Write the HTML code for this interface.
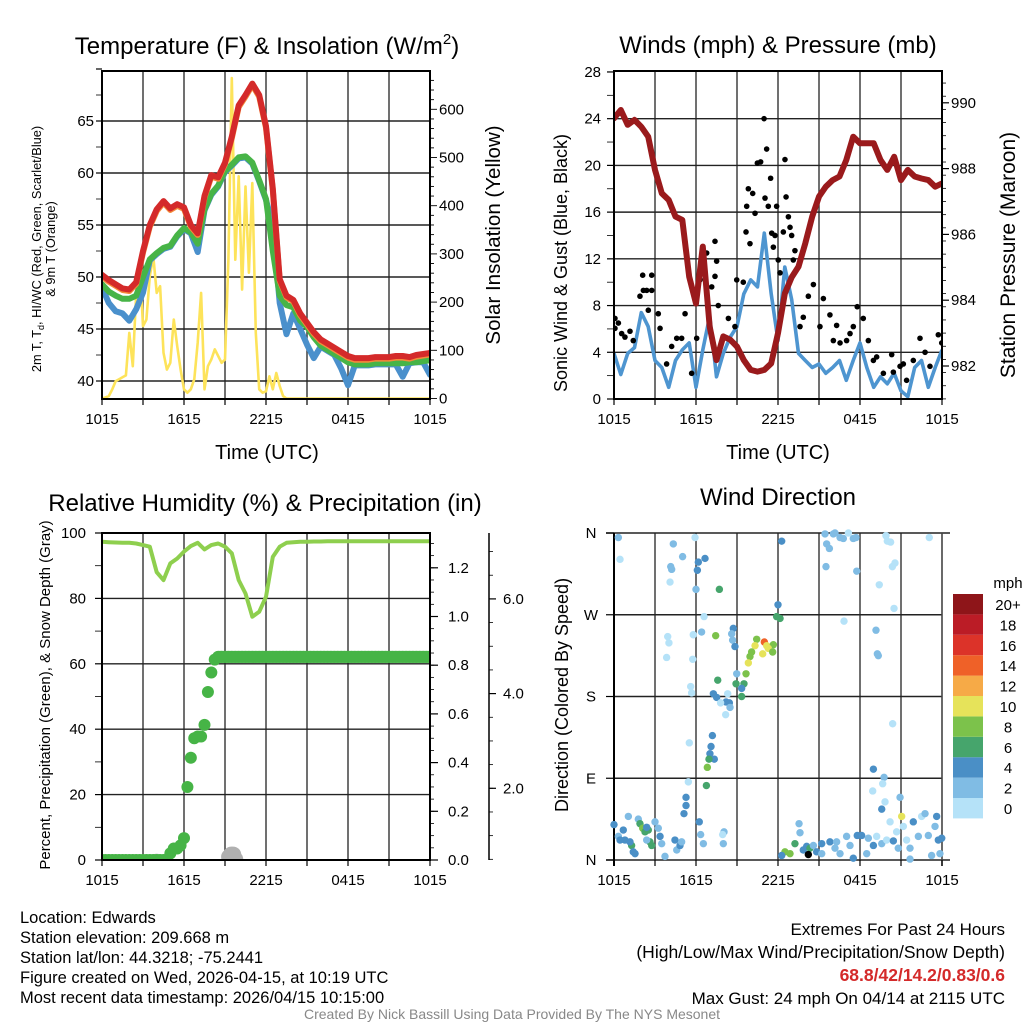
<!DOCTYPE html>
<html><head><meta charset="utf-8">
<style>
html,body{margin:0;padding:0;background:#fff;}
svg{display:block;font-family:"Liberation Sans",Arial,sans-serif;}
</style></head>
<body>
<svg id="fig" width="1024" height="1024" viewBox="0 0 1024 1024" xmlns="http://www.w3.org/2000/svg">
<defs>
<clipPath id="c1"><rect x="102" y="71" width="328" height="330"/></clipPath>
<clipPath id="c2"><rect x="614" y="71" width="328" height="328"/></clipPath>
<clipPath id="c3"><rect x="102" y="533" width="328" height="327"/></clipPath>
<clipPath id="c4"><rect x="605" y="525" width="345" height="345"/></clipPath>
</defs>
</svg>
<script>
// ---------- data ----------
const halfHours = [0,0.5,1,1.5,2,2.5,3,3.5,4,4.5,5,5.5,6,6.5,7,7.5,8,8.5,9,9.5,10,10.5,11,11.5,12,12.5,13,13.5,14,14.5,15,15.5,16,16.5,17,17.5,18,18.5,19,19.5,20,20.5,21,21.5,22,22.5,23,23.5,24];
const xTickLabels = ["1015","1615","2215","0415","1015"];
const tempRed = [50.2,49.7,49.3,48.9,48.8,49.5,52.5,55.0,56.5,57.3,56.6,57.0,56.7,55.0,54.2,57.8,59.8,59.6,61.0,63.5,66.5,67.5,68.6,67.5,64.5,58.5,49.8,48.2,47.8,46.5,45.6,44.7,44.0,43.6,43.2,42.8,42.4,42.2,42.2,42.2,42.3,42.3,42.3,42.4,42.4,42.3,42.5,42.6,42.7];
const dewGreen = [49.3,48.6,48.2,47.9,47.9,48.2,50.0,51.7,52.3,52.8,53.0,54.0,54.7,54.3,53.2,56.5,58.0,58.8,60.2,60.8,61.5,61.6,61.0,59.3,57.5,52.5,48.2,47.3,47.1,45.8,45.2,44.2,43.4,43.0,42.6,42.2,41.8,41.6,41.6,41.6,41.7,41.7,41.7,41.7,41.7,41.8,41.8,41.9,42.0];
const chillBlue = [49.0,47.5,46.7,46.5,45.8,46.9,48.5,51.6,52.2,52.7,52.9,53.9,54.6,54.2,52.4,56.4,57.9,58.7,60.1,60.7,61.4,61.5,60.9,59.2,57.4,55.0,47.5,44.5,46.5,45.0,43.5,42.2,43.3,42.9,42.5,41.2,39.6,41.5,41.5,41.5,41.6,41.6,41.6,41.6,40.4,41.7,41.8,41.8,40.6];
const tempTicks = [40,45,50,55,60,65];
const solarTicks = [0,100,200,300,400,500,600];
const solarYellow = [0,2,5,19,36,40,44,48,136,67,219,288,150,164,254,295,219,233,95,60,74,164,109,60,19,12,19,40,116,219,19,67,81,102,88,74,81,288,665,288,461,226,440,261,447,136,19,12,15,46,19,53,26,5,0,0,0,0,0,0,0,0,0,0,0,0,0,0,0,0,0,0,0,0,0,0,0,0,0,0,0,0,0,0,0,0,0,0,0,0,0,0,0,0,0,0,0];
const windTicks = [0,4,8,12,16,20,24,28];
const pressTicks = [982,984,986,988,990];
const pressure = [989.53,989.78,989.33,989.48,989.27,988.97,987.96,987.25,987.05,986.54,986.44,984.71,983.9,985.63,983.19,982.18,982.9,982.8,982.59,982.18,981.88,981.83,981.88,982.08,983.0,984.2,984.7,985.02,985.73,986.54,987.15,987.45,987.65,987.76,988.26,988.97,988.77,988.77,988.77,988.26,987.96,988.36,987.65,987.96,987.76,987.70,987.65,987.45,987.55];
const windSpeed = [3.9,2.1,3.9,4.4,7.4,6.2,3.3,2.7,1.0,3.3,4.2,4.8,1.0,4.2,7.1,1.9,3.9,5.3,6.2,9.0,10.2,9.6,14.2,9.0,5.0,11.3,8.5,3.9,3.3,2.7,3.0,2.2,2.7,3.3,1.6,3.3,4.8,2.7,1.0,1.9,1.3,2.2,0.7,0.2,2.7,3.3,1.0,2.7,4.2];
const gustTime = [0.07,0.07,0.32,0.56,0.8,1.17,1.41,1.9,2.1,2.15,2.39,2.76,2.76,2.51,3.24,3.37,3.85,4.22,4.59,4.95,5.2,5.68,6.05,6.29,6.78,7.39,7.51,7.39,7.15,7.63,8.37,8.98,8.85,9.46,9.66,9.71,9.83,10.15,9.95,10.32,10.49,10.73,10.98,11.17,11.05,11.29,11.46,11.54,11.78,11.66,11.9,12.02,12.15,12.39,12.51,12.59,12.76,12.88,13.0,13.12,13.24,13.61,13.85,14.22,14.59,15.07,15.32,15.8,16.05,16.29,16.54,17.02,17.27,17.51,17.8,18.24,18.61,18.98,19.22,19.71,20.32,20.44,20.93,21.17,21.41,21.9,22.39,22.76,23.12,23.73,23.98];
const gustSpeed = [6.05,6.9,6.5,5.6,5.3,5.8,5.0,8.8,10.6,9.3,9.3,9.3,10.6,7.6,7.3,6.05,3.0,4.5,5.2,5.2,7.3,2.2,5.2,10.2,12.5,13.5,11.8,10.5,9.6,8.0,6.9,10.2,6.2,10.0,14.3,16.5,18.0,17.6,13.3,15.9,20.2,20.3,24.0,21.4,17.2,16.5,18.9,14.2,14.0,13.0,16.5,11.9,10.8,14.3,20.5,17.3,15.6,14.7,14.0,11.9,12.7,6.2,7.0,8.8,9.8,6.2,8.6,7.2,5.0,6.3,4.8,5.0,5.6,6.2,7.9,6.9,5.0,3.3,3.6,2.2,3.8,2.3,2.8,3.0,1.6,3.3,5.2,4.0,2.8,5.5,4.8];
const rhTicks = [0,20,40,60,80,100];
const precipTicks = ["0.0","0.2","0.4","0.6","0.8","1.0","1.2"];
const snowTicks = ["2.0","4.0","6.0"];
const relHum = [97.3,97.2,97.1,97.0,97.0,96.8,96.3,95.8,88.0,85.6,90.7,92.2,94.3,96.0,97.0,95.0,96.3,96.8,95.8,93.8,85.6,81.5,74.4,75.9,80.5,92.7,95.8,97.0,97.2,97.3,97.3,97.4,97.4,97.5,97.5,97.5,97.5,97.5,97.5,97.5,97.5,97.5,97.5,97.5,97.5,97.5,97.5,97.5,97.5];
const precipQ = [0,0,0,0,0,0,0,0,0,0,0,0,0,0,0,0,0,0,0,0,0.027,0.047,0.047,0.06,0.09,0.30,0.42,0.50,0.507,0.507,0.555,0.69,0.77,0.823,0.834,0.834,0.834,0.834,0.834,0.834,0.834,0.834,0.834,0.834,0.834,0.834,0.834,0.834,0.834,0.834,0.834,0.834,0.834,0.834,0.834,0.834,0.834,0.834,0.834,0.834,0.834,0.834,0.834,0.834,0.834,0.834,0.834,0.834,0.834,0.834,0.834,0.834,0.834,0.834,0.834,0.834,0.834,0.834,0.834,0.834,0.834,0.834,0.834,0.834,0.834,0.834,0.834,0.834,0.834,0.834,0.834,0.834,0.834,0.834,0.834,0.834,0.834];
const snowTime = [4.0,9.3,9.45,9.6,9.75];
const snowDepth = [0.45,0.55,0.6,0.6,0.5];
const dirLabels = ["N","E","S","W","N"];
const dirTime = [0.32,0.44,4.34,5.93,5.02,4.15,4.22,4.10,6.17,6.66,6.10,6.0,7.71,12.27,12.0,11.9,12.15,6.59,6.41,5.80,3.93,4.02,3.85,5.76,7.44,8.73,8.61,8.68,8.85,10.44,11.0,10.32,11.17,11.66,11.29,10.88,11.61,10.07,9.95,9.83,9.66,8.98,9.51,8.93,7.59,9.34,9.34,7.27,7.51,8.32,8.20,8.44,8.49,7.80,8.17,5.61,5.68,7.20,5.51,7.10,7.02,7.34,6.95,6.83,6.76,5.44,5.27,5.27,5.12,6.24,6.34,6.54,8.05,7.95,8.0,0,0.32,0.68,0.8,1.05,1.29,1.41,1.54,1.78,1.90,2.10,2.27,2.51,2.39,2.63,2.76,3.0,3.24,3.37,3.49,3.73,4.46,4.59,4.83,4.95,0.44,1.17,2.39,15.44,16.05,16.17,16.54,16.78,17.15,17.51,17.71,15.56,15.76,15.51,17.76,19.9,20.0,20.24,23.07,20.56,20.37,19.41,20.49,16.83,19.17,19.27,19.34,20.39,18.98,19.76,19.66,18.93,19.83,19.59,20.93,21.05,12.51,12.88,13.24,12.27,13.54,13.61,13.85,14.1,14.34,14.59,14.83,15.2,15.8,16.29,16.54,17.02,17.27,17.51,17.8,18.12,18.49,18.61,18.98,19.22,19.59,19.95,20.2,20.68,20.8,21.17,21.41,21.66,21.9,22.27,22.51,22.76,23.0,23.24,23.49,23.61,23.73,23.98,23.85,21.66,20.44,16.17,15.2,14.22];
const dirDeg = [355,331,348,355,334,323,320,306,328,332,319,298,298,351,281,268,266,268,251,248,246,239,223,221,247,255,249,242,235,243,240,236,236,237,233,227,229,229,224,217,205,205,194,194,198,189,180,183,179,183,174,173,168,173,160,191,184,137,129,125,117,111,111,102,82,86,69,60,51,42,28,18,31,28,18,39,26,33,22,48,16,9,7,45,40,35,31,33,36,20,16,42,35,26,18,4,22,11,16,20,22,20,22,359,359,360,355,354,360,354,355,348,343,323,318,357,351,350,355,327,323,303,277,263,253,227,225,150,100,91,84,76,64,56,69,48,9,7,18,5,40,30,11,15,13,16,9,18,20,20,7,26,16,2,27,27,7,24,16,26,18,22,42,31,13,37,22,1,42,26,48,51,27,5,37,48,22,24,7,13,21,13,7,6];
const dirSpeed = [3,1,3,1,3,3,3,1,5,5,5,3,7,5,5,7,7,1,3,1,1,1,1,1,9,5,3,3,5,9,15,11,11,9,11,11,9,9,9,11,9,3,7,7,7,5,7,5,5,1,5,5,3,1,1,1,1,5,1,5,5,5,7,9,7,1,5,5,5,5,3,3,3,1,3,5,3,5,5,3,7,5,5,3,7,9,7,7,5,7,7,3,3,5,3,3,5,3,5,3,5,5,3,3,3,3,3,3,1,3,3,3,3,3,3,1,1,1,1,1,1,1,1,1,3,3,3,1,5,3,1,1,1,5,3,11,9,9,7,5,3,3,5,5,7,3,5,5,5,3,3,3,3,5,5,5,3,3,5,1,3,1,1,1,3,1,1,3,5,3,1,3,3,3,3,5,5,5,3,3,5,3,3];
const speedBins = ["0","2","4","6","8","10","12","14","16","18","20+"];
const binColors = ["#b5e2f8","#80bce4","#4a8fc6","#46a56c","#7cc24b","#e6e35a","#f6aa47","#ef6128","#dc3329","#bb1c26","#8e1519"];

// ---------- helpers ----------
const NS="http://www.w3.org/2000/svg";
const svg=document.getElementById('fig');
function mk(tag,attrs,parent){const e=document.createElementNS(NS,tag);for(const k in attrs)e.setAttribute(k,attrs[k]);(parent||svg).appendChild(e);return e;}
function txt(s,x,y,size,anchor,parent,extra){const e=mk('text',Object.assign({x:x,y:y,'font-size':size,'text-anchor':anchor||'middle',fill:'#000'},extra||{}),parent);e.textContent=s;return e;}
function pathD(xs,ys){let d='';for(let i=0;i<xs.length;i++){if(ys[i]==null)continue;d+=(d?'L':'M')+xs[i].toFixed(1)+','+ys[i].toFixed(1);}return d;}
function grid(g,x0,x1,y0,y1,hy){
  for(let i=1;i<8;i++){const x=x0+(x1-x0)*i/8;const l=mk('line',{x1:x,y1:y0,x2:x,y2:y1,stroke:'#333','stroke-width':1.4},g);}
  hy.forEach(y=>{const l=mk('line',{x1:x0,y1:y,x2:x1,y2:y,stroke:'#222','stroke-width':1.4},g);});
}
function xticks(g,x0,x1,yb){
  for(let i=0;i<=8;i++){const x=x0+(x1-x0)*i/8;mk('line',{x1:x,y1:yb,x2:x,y2:yb+6,stroke:'#000','stroke-width':1.2},g);}
  xTickLabels.forEach((s,i)=>{const t=txt(s,x0+(x1-x0)*i/4,yb+25,15,'middle',g);});
}

// ---------- panel 1 ----------
const P1X=t=>102+t*328/24, P1Y=v=>381-(v-40)*10.4, P1S=v=>398.5-v*0.482;
const g1=mk('g',{});


grid(g1,102,430,71,399,tempTicks.map(P1Y));
const g1d=mk('g',{'clip-path':'url(#c1)'},g1);
const qx=solarYellow.map((v,i)=>P1X(i*0.25));
const ysol=mk('path',{d:pathD(qx,solarYellow.map(P1S)),fill:'none',stroke:'#fde35a','stroke-width':2.6,'stroke-linejoin':'round'},g1d);


const hx=halfHours.map(P1X);
const lb=mk('path',{d:pathD(hx,chillBlue.map(P1Y)),fill:'none',stroke:'#4a90cc','stroke-width':6,'stroke-linejoin':'round','stroke-linecap':'round'},g1d);


const lg=mk('path',{d:pathD(hx,dewGreen.map(P1Y)),fill:'none',stroke:'#47b447','stroke-width':6,'stroke-linejoin':'round','stroke-linecap':'round'},g1d);


const lo=mk('path',{d:pathD(hx,tempRed.map(v=>P1Y(v-0.15))),fill:'none',stroke:'#f58a3a','stroke-width':6,'stroke-linejoin':'round'},g1d);


const lr=mk('path',{d:pathD(hx,tempRed.map(P1Y)),fill:'none',stroke:'#d42a2a','stroke-width':6,'stroke-linejoin':'round','stroke-linecap':'round'},g1d);


mk('rect',{x:102,y:71,width:328,height:328,fill:'none',stroke:'#000','stroke-width':2},g1);
for(let v=40;v<=70;v+=2.5){mk('line',{x1:96,y1:P1Y(v),x2:102,y2:P1Y(v),stroke:'#000','stroke-width':v%5===0?1.2:0.8},g1);}
tempTicks.forEach(v=>{const t=txt(String(v),94,P1Y(v)+5,15,'end',g1);});
for(let v=0;v<=660;v+=20){mk('line',{x1:430,y1:P1S(v),x2:v%100===0?437:434,y2:P1S(v),stroke:'#000','stroke-width':0.9},g1);}
solarTicks.forEach(v=>{const t=txt(String(v),439,P1S(v)+5,15,'start',g1);});
xticks(g1,102,430,399);
{const t=mk('text',{x:267,y:54,'font-size':24,'text-anchor':'middle'},g1);t.innerHTML='Temperature (F) &amp; Insolation (W/m<tspan dy="-10" font-size="15">2</tspan><tspan dy="10">)</tspan>';}
{const t=txt('Time (UTC)',267,459,20,'middle',g1);}
{const t=mk('text',{x:0,y:0,'font-size':12.8,'text-anchor':'middle',transform:'translate(41,249) rotate(-90)'},g1);t.innerHTML='2m T, T<tspan dy="3" font-size="9">d</tspan><tspan dy="-3">, HI/WC (Red, Green, Scarlet/Blue)</tspan>';}
{const t=txt('& 9m T (Orange)',0,0,12.8,'middle',g1,{transform:'translate(55,249) rotate(-90)'});}
{const t=txt('Solar Insolation (Yellow)',0,0,20.5,'middle',g1,{transform:'translate(500,235) rotate(-90)'});}

// ---------- panel 2 ----------
const P2X=t=>614+t*328/24, P2Y=v=>399-v*11.68, P2P=v=>366-(v-982)*32.9;
const g2=mk('g',{});


grid(g2,614,942,71,399,windTicks.slice(1,7).map(P2Y));
const g2d=mk('g',{'clip-path':'url(#c2)'},g2);
const ws=mk('path',{d:pathD(halfHours.map(P2X),windSpeed.map(P2Y)),fill:'none',stroke:'#4e95d0','stroke-width':3.6,'stroke-linejoin':'round'},g2d);


gustTime.forEach((t,i)=>{const c=mk('circle',{cx:P2X(t),cy:P2Y(gustSpeed[i]),r:2.8,fill:'#000'},g2d);});
const pr=mk('path',{d:pathD(halfHours.map(P2X),pressure.map(P2P)),fill:'none',stroke:'#9a1a1c','stroke-width':6,'stroke-linejoin':'round','stroke-linecap':'round'},g2d);


mk('rect',{x:614,y:71,width:328,height:328,fill:'none',stroke:'#000','stroke-width':2},g2);
for(let v=0;v<=28;v+=2){mk('line',{x1:607,y1:P2Y(v),x2:614,y2:P2Y(v),stroke:'#000','stroke-width':v%4===0?1.2:0.8},g2);}
windTicks.forEach(v=>{const t=txt(String(v),601,P2Y(v)+5,15,'end',g2);});
for(let v=981;v<=990.8;v+=0.4){mk('line',{x1:942,y1:P2P(v),x2:946,y2:P2P(v),stroke:'#000','stroke-width':0.8},g2);}
pressTicks.forEach(v=>{mk('line',{x1:942,y1:P2P(v),x2:949,y2:P2P(v),stroke:'#000','stroke-width':1.2},g2);const t=txt(String(v),951,P2P(v)+5,15,'start',g2);});
xticks(g2,614,942,399);
{const t=txt('Winds (mph) & Pressure (mb)',778,53,24,'middle',g2);}
{const t=txt('Time (UTC)',778,459,20,'middle',g2);}
{const t=txt('Sonic Wind & Gust (Blue, Black)',0,0,18,'middle',g2,{transform:'translate(567,263) rotate(-90)'});}
{const t=txt('Station Pressure (Maroon)',0,0,21,'middle',g2,{transform:'translate(1015,255) rotate(-90)'});}

// ---------- panel 3 ----------
const P3X=t=>102+t*328/24, P3Y=v=>860-v*3.27, P3R=v=>860-v*243.5, P3S=v=>883-v*47.35;
const g3=mk('g',{});


grid(g3,102,430,533,860,[20,40,60,80].map(P3Y));
const g3d=mk('g',{'clip-path':'url(#c3)'},g3);
snowTime.forEach((t,i)=>{const c=mk('circle',{cx:P3X(t),cy:P3S(snowDepth[i]),r:8,fill:'#b0b0b0'},g3d);});
const qx3=precipQ.map((v,i)=>P3X(i*0.25));
precipQ.forEach((v,i)=>{const c=mk('circle',{cx:qx3[i],cy:P3R(v),r:6,fill:'#46b446'},g3d);});
const pband=mk('path',{d:pathD(qx3.slice(34),precipQ.slice(34).map(P3R)),fill:'none',stroke:'#46b446','stroke-width':12,'stroke-linecap':'round'},g3d);


const zband=mk('path',{d:pathD(qx3.slice(0,20),precipQ.slice(0,20).map(P3R)),fill:'none',stroke:'#46b446','stroke-width':10,'stroke-linecap':'round'},g3d);


const rh=mk('path',{d:pathD(halfHours.map(P3X),relHum.map(P3Y)),fill:'none',stroke:'#8ecf4e','stroke-width':4,'stroke-linejoin':'round','stroke-linecap':'round'},g3d);


mk('rect',{x:102,y:533,width:328,height:327,fill:'none',stroke:'#000','stroke-width':2},g3);
for(let v=0;v<=100;v+=10){mk('line',{x1:95,y1:P3Y(v),x2:102,y2:P3Y(v),stroke:'#000','stroke-width':v%20===0?1.2:0.8},g3);}
rhTicks.forEach(v=>{const t=txt(String(v),86,P3Y(v)+5,15,'end',g3);});
for(let v=0;v<=1.35;v+=0.05){mk('line',{x1:430,y1:P3R(v),x2:434,y2:P3R(v),stroke:'#000','stroke-width':0.8},g3);}
precipTicks.forEach(s=>{const v=parseFloat(s);mk('line',{x1:430,y1:P3R(v),x2:438,y2:P3R(v),stroke:'#000','stroke-width':1.2},g3);const t=txt(s,448,P3R(v)+5,15,'start',g3);});
mk('line',{x1:489,y1:533,x2:489,y2:860,stroke:'#000','stroke-width':1.5},g3);
for(let v=0.5;v<=7;v+=0.5){const y=P3S(v);if(y<533||y>860)continue;mk('line',{x1:489,y1:y,x2:493,y2:y,stroke:'#000','stroke-width':0.8},g3);}
snowTicks.forEach(s=>{const v=parseFloat(s);mk('line',{x1:489,y1:P3S(v),x2:496,y2:P3S(v),stroke:'#000','stroke-width':1.2},g3);const t=txt(s,503,P3S(v)+5,15,'start',g3);});
xticks(g3,102,430,860);
{const t=txt('Relative Humidity (%) & Precipitation (in)',265,511,24,'middle',g3);}
{const t=txt('Percent, Precipitation (Green), & Snow Depth (Gray)',0,0,15,'middle',g3,{transform:'translate(50,695) rotate(-90)'});}

// ---------- panel 4 ----------
const P4X=t=>614+t*328/24, P4Y=d=>860-d*0.9083;
const g4=mk('g',{});


grid(g4,614,942,533,860,[90,180,270].map(P4Y));
mk('line',{x1:606,y1:533,x2:950,y2:533,stroke:'#222','stroke-width':1.5},g4);
mk('line',{x1:606,y1:860,x2:950,y2:860,stroke:'#222','stroke-width':1.5},g4);
mk('line',{x1:614,y1:533,x2:614,y2:866,stroke:'#000','stroke-width':2},g4);
mk('line',{x1:942,y1:533,x2:942,y2:866,stroke:'#444','stroke-width':1.6},g4);
const g4d=mk('g',{'clip-path':'url(#c4)'},g4);
function binOf(s){return Math.min(10,Math.floor(s/2));}
dirTime.forEach((t,i)=>{const c=mk('circle',{cx:P4X(t),cy:P4Y(dirDeg[i]),r:3.7,fill:binColors[binOf(dirSpeed[i])]},g4d);});
dirLabels.forEach((s,i)=>{const y=P4Y(i*90);mk('line',{x1:606,y1:y,x2:614,y2:y,stroke:'#000','stroke-width':1.2},g4);const t=txt(s,591,y+5,15,'middle',g4);});
xticks(g4,614,942,860);
{const t=txt('Wind Direction',778,505,24,'middle',g4);}
{const t=txt('Direction (Colored By Speed)',0,0,18,'middle',g4,{transform:'translate(568,695) rotate(-90)'});}
const cb=mk('g',{},g4);


speedBins.forEach((s,i)=>{const y=594+(10-i)*20.4;const r=mk('rect',{x:953,y:y,width:30,height:20.4,fill:binColors[i]},cb);const t=txt(s,1008,y+16,15,'middle',cb);});
{const t=txt('mph',1008,588,15,'middle',cb);}

// ---------- footer ----------
const info=["Location: Edwards","Station elevation: 209.668 m","Station lat/lon: 44.3218; -75.2441","Figure created on Wed, 2026-04-15, at 10:19 UTC","Most recent data timestamp: 2026/04/15 10:15:00"];
info.forEach((s,i)=>{const t=txt(s,20,923+i*20,16.5,'start');});
{const t=txt('Extremes For Past 24 Hours',1005,935,17,'end');}
{const t=txt('(High/Low/Max Wind/Precipitation/Snow Depth)',1005,958,17.5,'end');}
{const t=txt('68.8/42/14.2/0.83/0.6',1005,981,17.5,'end',null,{fill:'#d42a2a','font-weight':'bold'});}
{const t=txt('Max Gust: 24 mph On 04/14 at 2115 UTC',1005,1004,17,'end');}
{const t=txt('Created By Nick Bassill Using Data Provided By The NYS Mesonet',512,1019,14,'middle',null,{fill:'#888'});}
</script>
</body></html>
